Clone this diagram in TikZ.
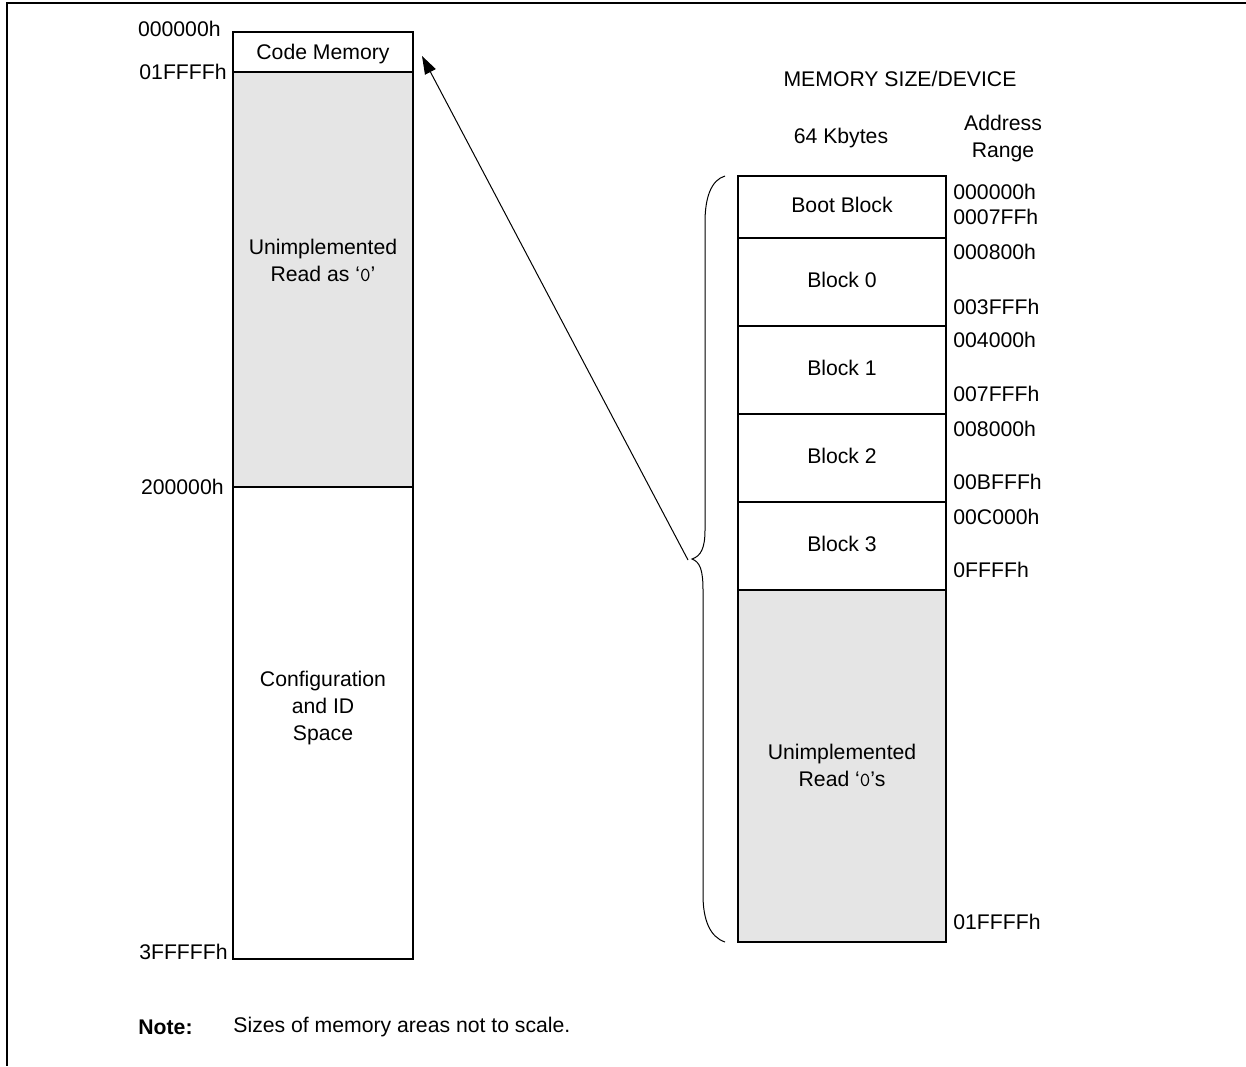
\documentclass[tikz,border=0pt]{standalone}
\usepackage{fontspec}
\setmainfont{Liberation Sans}
\usetikzlibrary{arrows.meta}
\newcommand\memfont{\fontsize{10.6}{13.5}\selectfont}
\newcommand\zerochar{{\fontsize{10}{13.5}\selectfont\ttfamily 0}}
\tikzset{
  memcell/.style={draw, line width=1pt},
  memgray/.style={fill=black!10},
  addr/.style={inner sep=0pt, font=\memfont},
  celltext/.style={inner sep=0pt, align=center, font=\memfont},
}

\begin{document}
\begin{tikzpicture}[x=0.5pt, y=-0.5pt]
    \useasboundingbox (0,0) rectangle (1246,1066);

    % coordinates to be reused
    \coordinate (LA) at (233,32);
    \coordinate (LB) at (413,32);
    \coordinate (LC) at (233,72);
    \coordinate (LD) at (413,72);
    \coordinate (LE) at (233,487);
    \coordinate (LF) at (413,487);
    \coordinate (LH) at (413,959);
    \coordinate (RA) at (738,176);
    \coordinate (RU) at (738,590);
    \coordinate (RB) at (946,942);
    \coordinate (brtip) at (692,559);
    \coordinate (arrtail) at (688,560);
    \coordinate (cmtip) at (422,56);

    % draw figure
    \draw [line width=1pt] (1246,3) -- (7,3) -- (7,1066);
    \begin{scope}
    \fill [memgray] (LC) rectangle (LF);
    \draw [memcell] (LA) rectangle (LH);
    \draw [memcell] (LC) -- (LD);
    \draw [memcell] (LE) -- (LF);
    \fill [memgray] (RU) rectangle (RB);
    \draw [memcell] (RA) rectangle (RB);
    \foreach \y in {238,326,414,502,590}
      \draw [memcell] (738,\y) -- (946,\y);
    \end{scope}

    % brace and arrow
    \draw [line width=0.5pt] (725,176) .. controls (711,180) and (705,198) .. (705,222)
      -- (705,530) .. controls (705,548) and (701,556) .. (brtip)
      .. controls (700,562) and (703,570) .. (703,590)
      -- (703,895) .. controls (703,920) and (710,937) .. (725,942);
    \draw [line width=0.5pt, -{Triangle[length=9pt,width=6pt]}] (arrtail) -- (cmtip);

    % add labels
    \node [celltext] (cm) at (323,54) {Code Memory};
    \node [celltext] (unimpl) at (323,260) {Unimplemented\\Read as `\zerochar'};
    \node [celltext] (cfg) at (323,708) {Configuration\\and ID\\Space};
    \node [addr, anchor=east] (a0) at (221,29) {000000h};
    \node [addr, anchor=east] (a1) at (227,72) {01FFFFh};
    \node [addr, anchor=east] (a2) at (224,487) {200000h};
    \node [addr, anchor=east] (a3) at (228,952) {3FFFFFh};

    \node [celltext] (hdr) at (900,79) {MEMORY SIZE/DEVICE};
    \node [celltext] (size) at (841,138) {64 Kbytes};
    \node [celltext] (range) at (1003,139) {Address\\Range};

    \node [celltext] (boot) at (842,205) {Boot Block};
    \node [celltext] (blk0) at (842,280) {Block 0};
    \node [celltext] (blk1) at (842,368) {Block 1};
    \node [celltext] (blk2) at (842,456) {Block 2};
    \node [celltext] (blk3) at (842,544) {Block 3};
    \node [celltext] (runimpl) at (842,765) {Unimplemented\\Read `\zerochar's};

    \node [addr, anchor=west] (r0) at (953,192) {000000h};
    \node [addr, anchor=west] (r1) at (953,217) {0007FFh};
    \node [addr, anchor=west] (r2) at (953,252) {000800h};
    \node [addr, anchor=west] (r3) at (953,307) {003FFFh};
    \node [addr, anchor=west] (r4) at (953,340) {004000h};
    \node [addr, anchor=west] (r5) at (953,394) {007FFFh};
    \node [addr, anchor=west] (r6) at (953,429) {008000h};
    \node [addr, anchor=west] (r7) at (953,482) {00BFFFh};
    \node [addr, anchor=west] (r8) at (953,517) {00C000h};
    \node [addr, anchor=west] (r9) at (953,570) {0FFFFh};
    \node [addr, anchor=west] (r10) at (953,922) {01FFFFh};

    \node [addr, anchor=west, font=\memfont\bfseries] (notehd) at (138,1027) {Note:};
    \node [addr, anchor=west] (notetx) at (233,1027) {Sizes of memory areas not to scale.};
\end{tikzpicture}
\end{document}
